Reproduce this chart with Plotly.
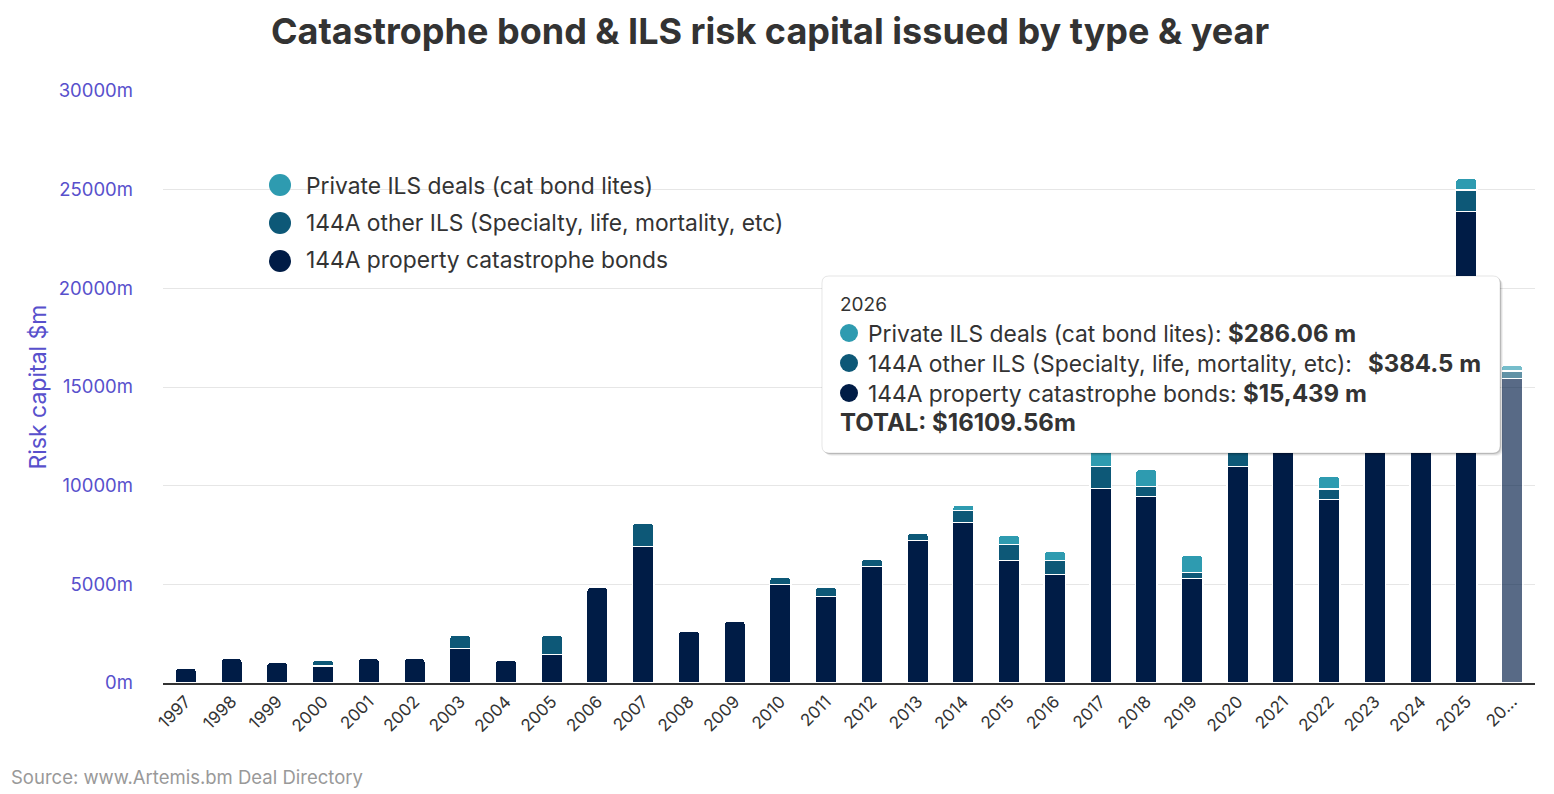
import plotly.graph_objects as go

years = [str(y) for y in range(1997, 2027)]
tick_labels = [str(y) for y in range(1997, 2026)] + ["20…"]

property_cat = [750, 1250, 1050, 850, 1250, 1250, 1740, 1150, 1435, 4850,
                6910, 2635, 3140, 4980, 4375, 5895, 7210, 8125, 6200, 5490,
                9850, 9445, 5290, 10965, 12900, 9290, 15400, 16500, 23890, 15439]
other_ils = [0, 0, 0, 300, 0, 0, 690, 0, 1000, 0,
             1200, 0, 0, 390, 490, 390, 390, 608, 810, 710,
             1115, 505, 305, 1800, 900, 540, 600, 700, 1100, 384.5]
private_ils = [0, 0, 0, 0, 0, 0, 0, 0, 0, 0,
               0, 0, 0, 0, 0, 0, 0, 290, 490, 490,
               1600, 880, 895, 3600, 2500, 660, 600, 600, 590, 286.06]

y_ticks = [0, 5000, 10000, 15000, 20000, 25000, 30000]
y_tick_labels = [f"{v}m" for v in y_ticks]

names = ["Private ILS deals (cat bond lites)",
         "144A other ILS (Specialty, life, mortality, etc)",
         "144A property catastrophe bonds"]
colors = ["#2e9bb0", "#0d5877", "#001c46"]

W, H = 1554, 794
L, R, T, B = 163, 19, 91, 111
PW, PH = W - L - R, H - T - B


def px(x):
    return (x - L) / PW


def py(y):
    return (H - B - y) / PH


opac = [1.0] * (len(years) - 1) + [0.65]

fig = go.Figure()
series = [(property_cat, 2), (other_ils, 1), (private_ils, 0)]
for vals, idx in series:
    fig.add_trace(go.Bar(
        x=years, y=vals, name=names[idx], showlegend=False,
        width=0.47,
        marker=dict(color=colors[idx], opacity=opac,
                    line=dict(color="white", width=1.5)),
    ))

# legend entries (symbols drawn as larger circles via shapes below)
for i in range(3):
    fig.add_trace(go.Scatter(
        x=[None], y=[None], mode="markers", name=names[i],
        legendgroup=f"g{i}",
        marker=dict(color="rgba(0,0,0,0)", size=16, symbol="circle"),
    ))


def rounded_path(x0, y0, x1, y1, r):
    def P(x, y):
        return f"{px(x):.5f},{py(y):.5f}"
    return (f"M {P(x0 + r, y0)} L {P(x1 - r, y0)} Q {P(x1, y0)} {P(x1, y0 + r)} "
            f"L {P(x1, y1 - r)} Q {P(x1, y1)} {P(x1 - r, y1)} L {P(x0 + r, y1)} "
            f"Q {P(x0, y1)} {P(x0, y1 - r)} L {P(x0, y0 + r)} Q {P(x0, y0)} {P(x0 + r, y0)} Z")


shapes = []
# legend circles
for i, yy in enumerate([185, 223, 261]):
    shapes.append(dict(type="circle", xref="paper", yref="paper",
                       x0=px(269), x1=px(291), y0=py(yy + 11), y1=py(yy - 11),
                       fillcolor=colors[i], line=dict(width=0)))

# tooltip box
for off, a in [(3, 0.05), (2, 0.08), (1, 0.12)]:
    shapes.append(dict(type="path", xref="paper", yref="paper",
                       path=rounded_path(822 + off, 276 + off, 1500 + off, 453 + off, 7),
                       fillcolor=f"rgba(0,0,0,{a})", line=dict(width=0)))
shapes.append(dict(type="path", xref="paper", yref="paper",
                   path=rounded_path(822, 276, 1500, 453, 7),
                   fillcolor="white", line=dict(color="rgba(0,0,0,0.10)", width=1)))

line_y = [333, 363, 393]
for i, yy in enumerate(line_y):
    shapes.append(dict(type="circle", xref="paper", yref="paper",
                       x0=px(840), x1=px(858), y0=py(yy - 9), y1=py(yy + 9),
                       fillcolor=colors[i], line=dict(width=0)))

last = len(years) - 1
total = private_ils[last] + other_ils[last] + property_cat[last]
tip_font = dict(family="Inter", size=22.8, color="#333333")
bold_style = "font-size:24px"
annotations = [
    dict(text=years[last], x=px(838), y=py(304), xref="paper", yref="paper",
         xanchor="left", yanchor="middle", showarrow=False,
         font=dict(family="Inter", size=19, color="#333333")),
    dict(text=f"{names[0]}: <b><span style='{bold_style}'>${private_ils[last]:,.2f} m</span></b>",
         x=px(866), y=py(line_y[0]),
         xref="paper", yref="paper", xanchor="left", yanchor="middle", showarrow=False, font=tip_font),
    dict(text=f"{names[1]}:", x=px(866), y=py(line_y[1]),
         xref="paper", yref="paper", xanchor="left", yanchor="middle", showarrow=False, font=tip_font),
    dict(text=f"<b>${other_ils[last]:,} m</b>", x=px(1366), y=py(line_y[1]),
         xref="paper", yref="paper", xanchor="left", yanchor="middle", showarrow=False,
         font=dict(family="Inter", size=24, color="#333333")),
    dict(text=f"{names[2]}: <b><span style='{bold_style}'>${property_cat[last]:,} m</span></b>",
         x=px(866), y=py(line_y[2]),
         xref="paper", yref="paper", xanchor="left", yanchor="middle", showarrow=False, font=tip_font),
    dict(text=f"<b>TOTAL: ${total:.2f}m</b>", x=px(838), y=py(423),
         xref="paper", yref="paper", xanchor="left", yanchor="middle", showarrow=False,
         font=dict(family="Inter", size=24, color="#333333")),
    dict(text="Source: www.Artemis.bm Deal Directory", x=px(9), y=py(777),
         xref="paper", yref="paper", xanchor="left", yanchor="middle", showarrow=False,
         font=dict(family="Inter", size=18.5, color="#999999")),
]

fig.update_layout(
    width=W, height=H,
    margin=dict(l=L, r=R, t=T, b=B, autoexpand=False),
    barmode="stack",
    barcornerradius=4,
    paper_bgcolor="white", plot_bgcolor="white",
    font=dict(family="Inter", color="#333333"),
    title=dict(text="<b>Catastrophe bond & ILS risk capital issued by type & year</b>",
               x=770 / W, xref="container", xanchor="center",
               y=1 - 31 / H, yanchor="middle",
               font=dict(family="Inter", size=36, color="#333333")),
    legend=dict(x=px(266), y=py(164), xref="paper", yref="paper",
                xanchor="left", yanchor="top", bgcolor="rgba(0,0,0,0)",
                font=dict(family="Inter", size=22.8, color="#333333"),
                traceorder="grouped", tracegroupgap=4, itemsizing="trace"),
    xaxis=dict(type="category", tickvals=years, ticktext=tick_labels,
               tickangle=-45, tickfont=dict(family="Inter", size=17, color="#333333"),
               showline=True, linecolor="#333333", linewidth=2,
               showgrid=False, ticks="", range=[-0.5, len(years) - 0.5]),
    yaxis=dict(range=[0, 30000], tickmode="array", tickvals=y_ticks, ticktext=y_tick_labels,
               tickfont=dict(family="Inter", size=18.5, color="#5850cc"),
               gridcolor="#e6e6e6", gridwidth=1, zeroline=False,
               showline=False, ticks="", ticklabelstandoff=29,
               title=dict(text="Risk capital $m", standoff=5,
                          font=dict(family="Inter", size=23, color="#5850cc"))),
    shapes=shapes,
    annotations=annotations,
)

fig.write_html("out.html")
